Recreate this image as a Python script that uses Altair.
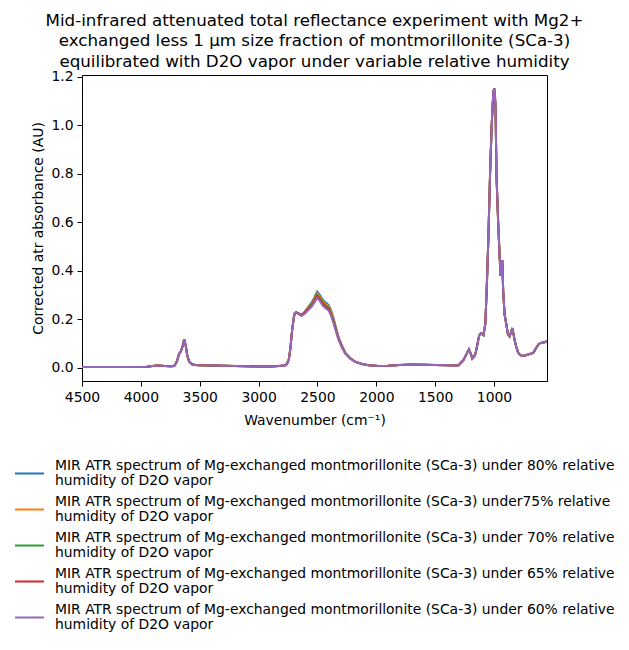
import altair as alt
import pandas as pd

# Wavenumbers (cm^-1), descending
wn_hi = [4500, 4300, 4100, 3950, 3900, 3850, 3800, 3750, 3717, 3695, 3675, 3660,
         3645, 3632, 3620, 3605, 3590, 3564, 3540, 3500, 3400, 3300, 3200, 3100,
         3000, 2900, 2827, 2780]
wn_band = [2760, 2743, 2730, 2715, 2700, 2692, 2680, 2660, 2635, 2610, 2580, 2550,
           2525, 2503, 2480, 2455, 2430, 2404, 2385, 2362, 2340, 2319, 2290, 2262, 2220]
wn_lo = [2178, 2120, 2065, 1980, 1900, 1800, 1700, 1600, 1500, 1400, 1330, 1300,
         1256, 1230, 1213, 1195, 1184, 1170, 1156, 1140, 1127, 1112, 1100, 1090,
         1074, 1063, 1049, 1034, 1020, 1006, 998, 992, 987, 979, 964, 950, 945,
         940, 930, 922, 910, 896, 882, 868, 856, 845, 835, 824, 810, 795, 780,
         767, 738, 710, 690, 666, 645, 623, 610, 594, 570, 551]

# Shared absorbance (identical for all humidities outside the O-D band)
abs_hi = [0.004, 0.004, 0.004, 0.005, 0.008, 0.010, 0.008, 0.007, 0.008, 0.025,
          0.058, 0.068, 0.090, 0.118, 0.095, 0.050, 0.026, 0.015, 0.012, 0.011,
          0.010, 0.009, 0.008, 0.007, 0.006, 0.006, 0.008, 0.010]
abs_lo = [0.025, 0.016, 0.011, 0.008, 0.009, 0.012, 0.014, 0.013, 0.012, 0.011,
          0.010, 0.011, 0.035, 0.062, 0.076, 0.055, 0.038, 0.045, 0.062, 0.100,
          0.132, 0.143, 0.140, 0.135, 0.181, 0.314, 0.519, 0.793, 0.999, 1.136,
          1.152, 1.120, 1.067, 0.793, 0.588, 0.437, 0.380, 0.400, 0.444, 0.314,
          0.220, 0.181, 0.139, 0.130, 0.145, 0.164, 0.140, 0.112, 0.085, 0.063,
          0.054, 0.050, 0.051, 0.055, 0.058, 0.062, 0.080, 0.097, 0.101, 0.104,
          0.106, 0.110]

# O-D stretching band, per relative humidity
band_80 = [0.015, 0.035, 0.080, 0.156, 0.210, 0.226, 0.230, 0.226, 0.219, 0.231,
           0.250, 0.269, 0.291, 0.314, 0.301, 0.281, 0.269, 0.259, 0.238, 0.202,
           0.161, 0.125, 0.090, 0.062, 0.040]
band_75 = [0.015, 0.035, 0.080, 0.156, 0.210, 0.226, 0.230, 0.225, 0.218, 0.229,
           0.247, 0.265, 0.286, 0.308, 0.295, 0.275, 0.263, 0.254, 0.233, 0.197,
           0.157, 0.122, 0.088, 0.061, 0.039]
band_70 = [0.015, 0.035, 0.080, 0.156, 0.210, 0.226, 0.229, 0.224, 0.217, 0.227,
           0.244, 0.261, 0.281, 0.302, 0.289, 0.269, 0.257, 0.248, 0.227, 0.192,
           0.153, 0.119, 0.086, 0.060, 0.039]
band_65 = [0.015, 0.035, 0.080, 0.156, 0.210, 0.226, 0.229, 0.223, 0.216, 0.225,
           0.241, 0.257, 0.276, 0.296, 0.283, 0.263, 0.251, 0.242, 0.221, 0.187,
           0.149, 0.116, 0.084, 0.059, 0.038]
band_60 = [0.015, 0.035, 0.080, 0.156, 0.210, 0.226, 0.228, 0.222, 0.214, 0.222,
           0.237, 0.252, 0.270, 0.289, 0.276, 0.257, 0.245, 0.236, 0.215, 0.182,
           0.145, 0.113, 0.082, 0.058, 0.038]

labels = [
    "MIR ATR spectrum of Mg-exchanged montmorillonite (SCa-3) under 80% relative\nhumidity of D2O vapor",
    "MIR ATR spectrum of Mg-exchanged montmorillonite (SCa-3) under75% relative\nhumidity of D2O vapor",
    "MIR ATR spectrum of Mg-exchanged montmorillonite (SCa-3) under 70% relative\nhumidity of D2O vapor",
    "MIR ATR spectrum of Mg-exchanged montmorillonite (SCa-3) under 65% relative\nhumidity of D2O vapor",
    "MIR ATR spectrum of Mg-exchanged montmorillonite (SCa-3) under 60% relative\nhumidity of D2O vapor",
]
colors = ["#1f77b4", "#ff7f0e", "#2ca02c", "#d62728", "#9467bd"]
bands = [band_80, band_75, band_70, band_65, band_60]

wn_all = wn_hi + wn_band + wn_lo
rows = []
for lab, band in zip(labels, bands):
    vals = abs_hi + band + abs_lo
    for w, v in zip(wn_all, vals):
        rows.append({"wn": w, "absorbance": v, "series": lab})
df = pd.DataFrame(rows)

x_ticks = [4500, 4000, 3500, 3000, 2500, 2000, 1500, 1000]
y_ticks = [0.0, 0.2, 0.4, 0.6, 0.8, 1.0, 1.2]

chart = alt.Chart(df).mark_line(strokeWidth=2).encode(
    x=alt.X("wn:Q", title="Wavenumber (cm⁻¹)",
            scale=alt.Scale(domain=[4500, 550], nice=False, zero=False),
            axis=alt.Axis(values=x_ticks, format="d", labelFlush=False, titlePadding=10)),
    y=alt.Y("absorbance:Q", title="Corrected atr absorbance (AU)",
            scale=alt.Scale(domain=[-0.054, 1.207], nice=False, zero=False),
            axis=alt.Axis(values=y_ticks, format=".1f", titlePadding=5)),
    color=alt.Color("series:N", scale=alt.Scale(domain=labels, range=colors),
                    legend=alt.Legend(title=None, orient="none", legendX=-68, legendY=383,
                                      symbolType="stroke", symbolSize=841,
                                      symbolStrokeWidth=2, labelOffset=10,
                                      labelLimit=0, rowPadding=5,
                                      labelBaseline="line-bottom",
                                      labelExpr="split(datum.label, '\\n')")),
).properties(
    width=465,
    height=306,
    title=alt.TitleParams(
        text=["Mid-infrared attenuated total reflectance experiment with Mg2+",
              "exchanged less 1 µm size fraction of montmorillonite (SCa-3)",
              "equilibrated with D2O vapor under variable relative humidity"],
        fontSize=16.7, fontWeight="normal", lineHeight=20.5, offset=-1,
        anchor="middle", frame="group", color="black"),
    autosize=alt.AutoSizeParams(type="none"),
    padding={"left": 74, "top": 67, "right": 74, "bottom": 262},
).configure(
    font="DejaVu Sans",
).configure_view(
    stroke="black", strokeWidth=1,
).configure_axis(
    grid=False, domainColor="black", tickColor="black", tickSize=5,
    labelFontSize=13.9, titleFontSize=13.9, labelColor="black", titleColor="black",
    labelPadding=4, titleFontWeight="normal",
).configure_legend(
    labelFontSize=13.9, labelColor="black",
)

chart.save("out.html", embed_options={"renderer": "svg", "actions": False})
